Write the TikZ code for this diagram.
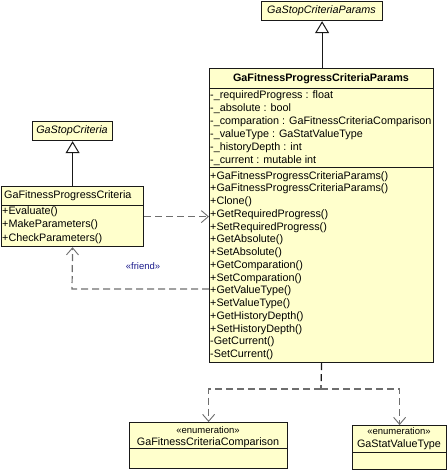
\documentclass[tikz,border=0pt]{standalone}
\usepackage{fontspec}
\setmainfont{Liberation Sans}
\usetikzlibrary{arrows.meta,positioning}
\definecolor{umlfill}{HTML}{FFFFCC}
\definecolor{umlline}{HTML}{6E6E6E}
\definecolor{umlnote}{HTML}{1A1A8C}
\tikzset{
    cls/.style={
        draw=black!90,
        line width=1.2pt,
        fill=umlfill,
        anchor=north west,
        inner sep=0pt
    },
    divider/.style={draw=black!90, line width=1pt},
    member/.style={
        anchor=base west,
        inner sep=0pt,
        font=\fontsize{10.8}{12}\selectfont
    },
    clsname/.style={
        anchor=base,
        inner sep=0pt,
        font=\fontsize{10.8}{12}\selectfont
    },
    stereo/.style={
        anchor=base,
        inner sep=0pt,
        font=\fontsize{9.5}{10}\selectfont
    },
    gen/.style={-{Triangle[open,length=12pt,width=14pt,fill=white]}, line width=1pt, draw=black!90},
    dep/.style={dash pattern=on 7pt off 4pt, line width=1.2pt, draw=umlline,
        -{Straight Barb[length=7pt,width=12pt,line width=0.9pt]}}
}

\begin{document}
\begin{tikzpicture}[x=1pt,y=-1pt]
    \useasboundingbox (0,0) rectangle (447,470);

    % abstract bases
    \node[cls, minimum width=121pt, minimum height=19pt] (stopparams) at (261,1) {};
    \node[clsname, font=\fontsize{10.8}{12}\selectfont\itshape] (stopparamsname) at (321.5,14) {GaStopCriteriaParams};
    \node[cls, minimum width=80pt, minimum height=19pt] (stopcrit) at (32,121) {};
    \node[clsname, font=\fontsize{10.8}{12}\selectfont\itshape] (stopcritname) at (72,134) {GaStopCriteria};

    % parameters class
    \node[cls, minimum width=224pt, minimum height=294pt] (params) at (209,68) {};
    \draw[divider] (209,89) -- (433,89);
    \draw[divider] (209,168) -- (433,168);
    \node[clsname, font=\fontsize{10.8}{12}\selectfont\bfseries] (paramsname) at (321,82) {GaFitnessProgressCriteriaParams};
    \foreach \m [count=\i] in {-\_requiredProgress : float, -\_absolute : bool,
        -\_comparation : GaFitnessCriteriaComparison, -\_valueType : GaStatValueType,
        -\_historyDepth : int, -\_current : mutable int}
        \node[member] (attr\i) at (210,{99+12.9*(\i-1)}) {\m};
    \foreach \m [count=\i] in {+GaFitnessProgressCriteriaParams(), +GaFitnessProgressCriteriaParams(),
        +Clone(), +GetRequiredProgress(), +SetRequiredProgress(), +GetAbsolute(), +SetAbsolute(),
        +GetComparation(), +SetComparation(), +GetValueType(), +SetValueType(),
        +GetHistoryDepth(), +SetHistoryDepth(), -GetCurrent(), -SetCurrent()}
        \node[member] (op\i) at (210,{179+12.75*(\i-1)}) {\m};

    % criteria class
    \node[cls, minimum width=142pt, minimum height=60pt] (criteria) at (1,186) {};
    \draw[divider] (1,205) -- (143,205);
    \node[member] (criterianame) at (4,198) {GaFitnessProgressCriteria};
    \foreach \m [count=\i] in {+Evaluate(), +MakeParameters(), +CheckParameters()}
        \node[member] (cop\i) at (2,{214+13.5*(\i-1)}) {\m};

    % enumerations
    \node[cls, minimum width=158pt, minimum height=46pt] (comparison) at (129,422) {};
    \draw[divider] (129,448) -- (287,448);
    \node[stereo] (comparisonst) at (208,433) {«enumeration»};
    \node[clsname] (comparisonname) at (208,445) {GaFitnessCriteriaComparison};
    \node[cls, minimum width=94pt, minimum height=44pt] (valuetype) at (352,425) {};
    \draw[divider] (352,452) -- (446,452);
    \node[stereo] (valuetypest) at (399,434) {«enumeration»};
    \node[clsname] (valuetypename) at (399,447) {GaStatValueType};

    % connectors
    \draw[gen] (params.north -| stopparams.south) -- (stopparams.south);
    \draw[gen] (criteria.north) -- (stopcrit.south);
    \draw[dep] (criteria.east) -- (params.west |- criteria.east);
    \coordinate (friendbend) at (72,289);
    \draw[dep] (params.west |- friendbend) -- (friendbend) -- (criteria.south);
    \node[inner sep=0pt, text=umlnote, font=\fontsize{9.5}{10}\selectfont] (friendlabel) at (143,266) {«friend»};
    \coordinate (fork) at (321,389);
    \draw[dash pattern=on 7pt off 4pt, line width=1.2pt, black!90] (params.south) -- (fork);
    \draw[dep] (fork) -| (comparison.north);
    \draw[dep] (fork) -| (valuetype.north);
\end{tikzpicture}
\end{document}
